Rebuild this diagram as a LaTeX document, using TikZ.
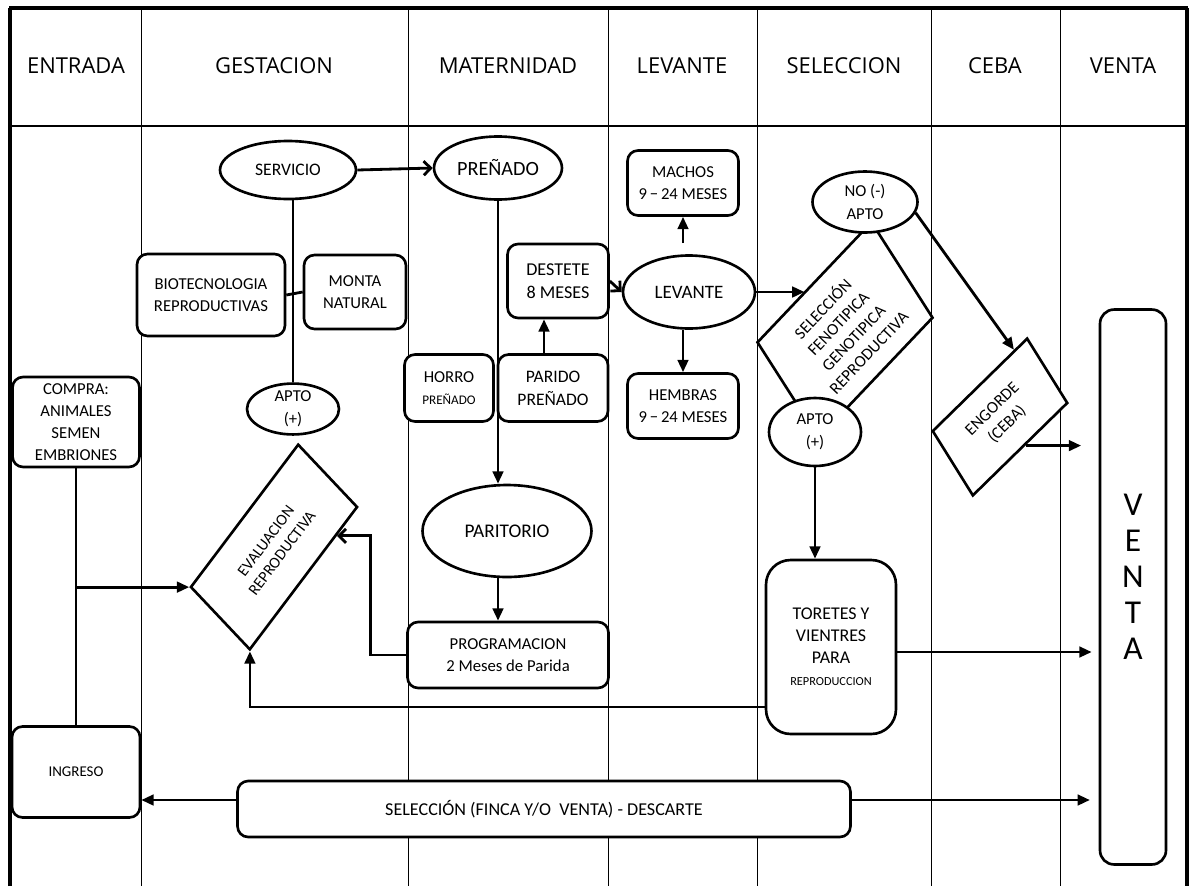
\documentclass[tikz,border=0pt]{standalone}
\usepackage{fontspec}
\setmainfont{Carlito}
\newfontfamily\headfont{Open Sans}
\usetikzlibrary{shapes.geometric,arrows.meta,calc,positioning}

\tikzset{
	lane/.style={line width=.5pt},
	head/.style={font=\headfont\fontsize{12.5}{14}\selectfont},
	box/.style={rectangle,rounded corners=6pt,draw=black,line width=1.5pt,fill=white,align=center,inner sep=1pt,font=\fontsize{9.5}{12.5}\selectfont},
	oval/.style={ellipse,draw=black,line width=1.5pt,fill=white,align=center,inner sep=0pt,font=\fontsize{10}{13}\selectfont},
	data/.style={trapezium,trapezium left angle=75,trapezium right angle=105,trapezium stretches=true,draw=black,line width=1.5pt,fill=white,align=center,inner sep=1pt,font=\fontsize{9.5}{12}\selectfont},
	link/.style={line width=1.6pt},
	flow/.style={line width=1.6pt,-{Triangle[length=7pt,width=6pt]}},
	openflow/.style={line width=1.6pt,-{Straight Barb[length=4pt,width=8pt]}}
}

\begin{document}
\begin{tikzpicture}[x=0.02cm,y=-0.02cm]
	\useasboundingbox (0,0) rectangle (1193,886);

	% lanes
	\foreach \lx in {141,408,608,757,931,1060}
		\draw[lane] (\lx,8) -- (\lx,886);
	\draw[line width=.8pt] (10,126) -- (1187,126);
	\draw[line width=2.8pt] (10,886) -- (10,8);
	\draw[line width=1.8pt] (9,8) -- (1188,8);
	\draw[line width=2.8pt] (1187,8) -- (1187,886);

	% lane titles
	\node[head] (hEntrada) at (76,66) {ENTRADA};
	\node[head] (hGestacion) at (274,66) {GESTACION};
	\node[head] (hMaternidad) at (508,66) {MATERNIDAD};
	\node[head] (hLevante) at (682,66) {LEVANTE};
	\node[head] (hSeleccion) at (844,66) {SELECCION};
	\node[head] (hCeba) at (995,66) {CEBA};
	\node[head] (hVenta) at (1123,66) {VENTA};

	% entrada
	\node[box,minimum width=2.54cm,minimum height=1.8cm] (compra) at (76,422) {COMPRA:\\ANIMALES\\SEMEN\\EMBRIONES};
	\node[box,minimum width=2.56cm,minimum height=1.82cm,font=\fontsize{8.5}{10}\selectfont] (ingreso) at (76,772) {INGRESO};

	% gestacion
	\node[oval,minimum width=2.72cm,minimum height=1.16cm] (servicio) at (288,170) {SERVICIO};
	\node[box,minimum width=2.96cm,minimum height=1.64cm] (biotec) at (211,295) {BIOTECNOLOGIA\\REPRODUCTIVAS};
	\node[box,minimum width=2.04cm,minimum height=1.48cm] (monta) at (355,292) {MONTA\\NATURAL};
	\node[oval,minimum width=1.84cm,minimum height=1cm,font=\fontsize{9.5}{13}\selectfont] (aptoG) at (293,409) {APTO\\(+)};
	\node[data,rotate=53,minimum width=3.86cm,minimum height=1.69cm,font=\fontsize{9}{11.5}\selectfont] (evalua) at (274,547) {EVALUACION\\REPRODUCTIVA};

	% maternidad
	\node[oval,minimum width=2.56cm,minimum height=1.26cm,font=\fontsize{11.5}{13}\selectfont] (prenado) at (498,168) {PREÑADO};
	\node[box,minimum width=2.02cm,minimum height=1.48cm,font=\fontsize{10.3}{13}\selectfont] (destete) at (558,281) {DESTETE\\8 MESES};
	\node[box,minimum width=1.78cm,minimum height=1.34cm] (horro) at (449,388) {HORRO\\{\fontsize{7.5}{9}\selectfont PREÑADO}};
	\node[box,minimum width=2.2cm,minimum height=1.34cm,font=\fontsize{10}{13}\selectfont] (parido) at (553,388) {PARIDO\\PREÑADO};
	\node[oval,minimum width=3.38cm,minimum height=1.84cm,font=\fontsize{11}{13}\selectfont] (paritorio) at (507,531) {PARITORIO};
	\node[box,minimum width=4.02cm,minimum height=1.32cm] (programacion) at (508,655) {PROGRAMACION\\2 Meses de Parida};

	% levante
	\node[oval,minimum width=2.64cm,minimum height=1.46cm,font=\fontsize{10.8}{13}\selectfont] (levante) at (689,292) {LEVANTE};
	\node[box,minimum width=2.22cm,minimum height=1.3cm] (machos) at (683,183) {MACHOS\\9\,−\,24 MESES};
	\node[box,minimum width=2.22cm,minimum height=1.3cm] (hembras) at (683,406) {HEMBRAS\\9\,−\,24 MESES};

	% seleccion
	\node[data,rotate=46.5,minimum width=3.88cm,minimum height=2.2cm] (seleccion) at (845,330) {SELECCIÓN\\FENOTIPICA\\GENOTIPICA\\REPRODUCTIVA};
	\node[oval,minimum width=2.1cm,minimum height=1.22cm,font=\fontsize{9.5}{13}\selectfont] (noapto) at (865,202) {NO (-)\\APTO};
	\node[oval,minimum width=1.84cm,minimum height=1.36cm,font=\fontsize{9.5}{13}\selectfont] (aptoS) at (815,432) {APTO\\(+)};
	\node[box,rounded corners=14pt,minimum width=2.6cm,minimum height=3.48cm,font=\fontsize{10.2}{12.5}\selectfont] (toretes) at (831,647) {TORETES Y\\VIENTRES\\PARA\\{\fontsize{7}{9}\selectfont REPRODUCCION}};

	% ceba y venta
	\node[data,rotate=44.4,minimum width=2.98cm,minimum height=1.48cm] (engorde) at (1000,417) {ENGORDE\\(CEBA)};
	\node[box,rounded corners=8pt,minimum width=1.32cm,minimum height=11.1cm,
		label={[yshift=6pt,align=center,font=\fontsize{19}{20.5}\selectfont]center:{V\\E\\N\\T\\A}}] (venta) at (1133,587) {};
	\node[box,minimum width=12.26cm,minimum height=1.12cm,font=\fontsize{10.3}{12}\selectfont] (descarte) at (544,809) {SELECCIÓN (FINCA Y/O~~VENTA) - DESCARTE};

	% gestacion links
	\draw[openflow] (servicio.east) -- (prenado.west);
	\draw[link] (aptoG.north |- servicio.south) -- (aptoG.north);
	\draw[link] (biotec.east) -- (monta.west);

	% entrada links
	\draw[link] (compra.south) -- (ingreso.north);
	\draw[flow] (compra.south |- evalua.top left corner) -- (evalua.top left corner);

	% maternidad links
	\draw[flow] (prenado.south) -- (prenado.south |- paritorio.north);
	\draw[flow] (parido.north -| 544,0) -- (destete.south -| 544,0);
	\draw[openflow] (destete.east) -- (levante.west);
	\draw[flow] (prenado.south |- paritorio.south) -- (prenado.south |- programacion.north);
	\coordinate (evIn) at ($(evalua.bottom right corner)!0.2!(evalua.bottom left corner)$);
	\draw[openflow] (programacion.west) -- ++(-36,0) |- (evIn);

	% levante links
	\draw[flow] (levante.north -| machos.south) ++(0,-11) -- (machos.south);
	\draw[flow] (levante.south -| hembras.north) -- (hembras.north);
	\coordinate (selIn) at ($(seleccion.top left corner)!0.42!(seleccion.top right corner)$);
	\draw[flow] (levante.east) -- (levante.east -| selIn);

	% seleccion links
	\coordinate (engIn) at ($(engorde.top left corner)!0.86!(engorde.top right corner)$);
	\draw[flow] (noapto.-12) -- (engIn);
	\draw[flow] (aptoS.south) -- (aptoS.south |- toretes.north);
	\draw[flow] (toretes.west |- 0,707) -| (evalua.bottom left corner);

	% venta links
	\coordinate (engOut) at ($(engorde.bottom right corner)!0.45!(engorde.bottom left corner)$);
	\draw[flow,shorten >=10pt] (engOut) -- (engOut -| venta.west);
	\draw[flow,shorten >=4pt] (toretes.east |- 0,652) -- (venta.west |- 0,652);
	\draw[flow,shorten >=5pt] (descarte.east |- 0,800) -- (venta.west |- 0,800);
	\draw[flow] (descarte.west |- 0,800) -- (ingreso.east |- 0,800);
\end{tikzpicture}
\end{document}
